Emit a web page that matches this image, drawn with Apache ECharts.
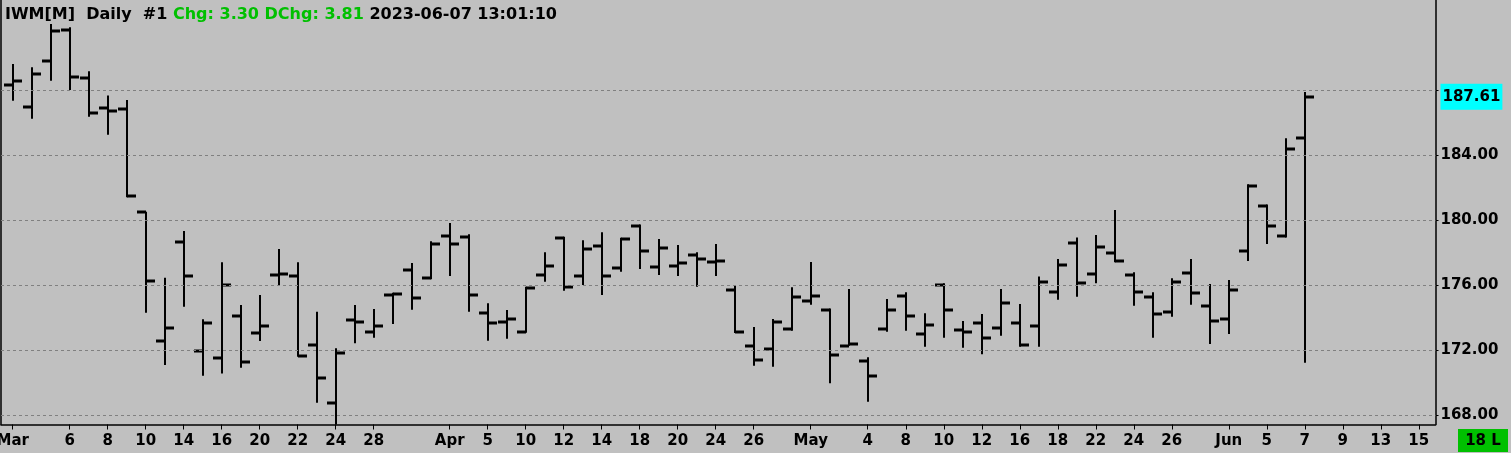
<!DOCTYPE html>
<html>
<head>
<meta charset="utf-8">
<script src="https://cdn.jsdelivr.net/npm/echarts@6/dist/echarts.min.js"></script>
<style>
html,body{margin:0;padding:0;background:#c0c0c0;}
#chart{width:1511px;height:453px;}
</style>
</head>
<body>
<div id="chart"></div>
<script>
// Trading days (index = position on the x axis); last 6 are empty future slots
const days = ['03-01','03-02','03-03','03-06','03-07','03-08','03-09','03-10','03-13','03-14','03-15','03-16','03-17','03-20','03-21','03-22','03-23','03-24','03-27','03-28','03-29','03-30','03-31',
'04-03','04-04','04-05','04-06','04-10','04-11','04-12','04-13','04-14','04-17','04-18','04-19','04-20','04-21','04-24','04-25','04-26','04-27','04-28',
'05-01','05-02','05-03','05-04','05-05','05-08','05-09','05-10','05-11','05-12','05-15','05-16','05-17','05-18','05-19','05-22','05-23','05-24','05-25','05-26','05-30','05-31',
'06-01','06-02','06-05','06-06','06-07','06-08','06-09','06-12','06-13','06-14','06-15'];

const openV  = [188.34,186.99,189.82,191.71,188.78,186.93,186.87,180.49,172.57,178.68,171.98,171.54,174.13,173.08,176.63,176.59,172.34,168.78,173.88,173.14,175.40,176.96,176.47,
179.05,178.99,174.31,173.76,173.14,176.65,178.93,176.59,178.44,177.08,179.67,177.14,177.21,177.88,177.45,175.73,172.28,172.10,173.33,
175.05,174.50,172.28,171.36,173.33,175.36,173.02,176.04,173.27,173.70,173.39,173.70,173.51,175.61,178.62,176.71,178.01,176.65,175.30,174.38,176.78,174.74,
173.94,178.13,180.90,179.05,185.08];
const highV  = [189.62,189.42,192.08,191.88,189.17,187.69,187.40,180.53,176.47,179.34,173.91,177.42,174.79,175.40,178.23,177.42,174.38,172.12,174.79,174.54,175.54,177.37,178.71,
179.83,179.14,174.89,174.48,175.91,178.03,178.99,178.77,179.26,178.93,179.75,178.85,178.48,178.03,178.54,176.00,173.43,173.93,175.88,
177.43,174.58,175.77,171.57,175.16,175.57,174.28,176.12,173.80,174.23,175.77,174.85,176.55,177.62,178.95,179.10,180.63,176.80,175.57,176.43,177.62,176.08,
176.33,182.22,180.98,185.05,187.90];
const lowV   = [187.36,186.25,188.59,188.02,186.38,185.27,181.42,174.31,171.10,174.68,170.44,170.58,170.93,172.57,176.02,171.61,168.78,167.20,172.43,172.78,173.62,174.50,176.37,
176.57,174.38,172.59,172.71,173.08,176.22,175.67,176.02,175.40,176.84,177.00,176.63,176.57,175.91,176.57,173.06,171.05,170.99,173.21,
174.81,169.97,172.28,168.84,173.14,173.21,172.22,172.78,172.16,171.75,172.90,172.22,172.22,175.11,175.30,176.12,177.42,174.74,172.78,174.07,174.81,172.39,
173.00,177.50,178.54,178.95,171.24];
const closeV = [188.59,189.02,191.67,188.84,186.60,186.74,181.51,176.28,173.39,176.59,173.70,176.02,171.30,173.51,176.70,171.67,170.30,171.85,173.76,173.51,175.46,175.24,178.52,
178.56,175.40,173.70,173.94,175.85,177.21,175.90,178.25,176.59,178.87,178.13,178.31,177.39,177.64,177.50,173.13,171.40,173.74,175.30,
175.34,171.73,172.41,170.44,174.50,174.13,173.58,174.50,173.14,172.78,174.93,172.34,176.22,177.27,176.16,178.38,177.50,175.59,174.25,176.20,175.54,173.82,
175.71,182.11,179.67,184.41,187.61];

const xTickIdx  = [0,3,5,7,9,11,13,15,17,19,23,25,27,29,31,33,35,37,39,42,45,47,49,51,53,55,57,59,61,64,66,68,70,72,74];
const xTickText = ['Mar','6','8','10','14','16','20','22','24','28','Apr','5','10','12','14','18','20','24','26','May','4','8','10','12','16','18','22','24','26','Jun','5','7','9','13','15'];
const yGrid     = [168,172,176,180,184,188];
const yLabels   = [168,172,176,180,184,187.61];
const lastPrice = 187.61;

const FONT = 'DejaVu Sans';
const ohlc = openV.map((o, i) => [i, o, highV[i], lowV[i], closeV[i]]);

const chart = echarts.init(document.getElementById('chart'), null, {renderer: 'canvas'});
chart.setOption({
  animation: false,
  backgroundColor: '#c0c0c0',
  title: {
    text: '{b|IWM[M]  Daily  #1 }{g|Chg: 3.30 DChg: 3.81 }{b|2023-06-07 13:01:10}',
    left: 5, top: 7, padding: 0,
    textStyle: {
      rich: {
        b: {fontFamily: FONT, fontWeight: 'bold', fontSize: 16, color: '#000'},
        g: {fontFamily: FONT, fontWeight: 'bold', fontSize: 16, color: '#00c000'}
      }
    }
  },
  grid: {left: 1, right: 75.5, top: 0, bottom: 28.5, outerBoundsMode: 'none', containLabel: false},
  xAxis: {
    type: 'value', min: -0.616, max: 74.88,
    splitLine: {show: false},
    axisLine: {show: true, onZero: false, lineStyle: {color: '#000', width: 1.5}},
    axisTick: {show: true, customValues: xTickIdx, length: 5, lineStyle: {color: '#000', width: 1}},
    axisLabel: {
      customValues: xTickIdx, margin: 9,
      fontFamily: FONT, fontWeight: 'bold', fontSize: 15, color: '#000',
      formatter: v => xTickText[xTickIdx.indexOf(Math.round(v))]
    }
  },
  yAxis: [{
    type: 'value', position: 'right', min: 167.434, max: 193.56,
    splitLine: {show: false},
    axisLine: {show: true, onZero: false, lineStyle: {color: '#000', width: 1.5}},
    axisTick: {show: true, customValues: yGrid, length: 3, lineStyle: {color: '#000'}},
    axisLabel: {
      customValues: yLabels, margin: 5,
      fontFamily: FONT, fontWeight: 'bold', fontSize: 15, color: '#000',
      formatter: v => Math.abs(v - lastPrice) < 1e-6 ? '{cur|' + v.toFixed(2) + '}' : v.toFixed(2),
      rich: {cur: {fontFamily: FONT, fontWeight: 'bold', fontSize: 15, color: '#000', backgroundColor: '#00ffff', padding: [6, 2, 5, 2]}}
    }
  }, {
    type: 'value', position: 'left', min: 167.434, max: 193.56,
    splitLine: {show: false},
    axisLine: {show: true, onZero: false, lineStyle: {color: '#000', width: 1.5}},
    axisTick: {show: false}, axisLabel: {show: false}
  }],
  series: [{
    type: 'custom',
    clip: true,
    data: ohlc,
    renderItem: (params, api) => {
      const i = api.value(0);
      const o = api.coord([i, api.value(1)]);
      const h = api.coord([i, api.value(2)]);
      const l = api.coord([i, api.value(3)]);
      const c = api.coord([i, api.value(4)]);
      const x = Math.round(o[0]);
      return {
        type: 'group',
        children: [
          {type: 'line', shape: {x1: x, y1: h[1], x2: x, y2: l[1]}, style: {stroke: '#000', lineWidth: 2}},
          {type: 'rect', shape: {x: x - 9, y: Math.round(o[1]) - 1.5, width: 9, height: 3}, style: {fill: '#000'}},
          {type: 'rect', shape: {x: x, y: Math.round(c[1]) - 1.5, width: 9, height: 3}, style: {fill: '#000'}}
        ]
      };
    },
    markLine: {
      silent: true, symbol: 'none', label: {show: false},
      lineStyle: {color: '#808080', type: [3, 3], width: 1},
      data: yGrid.map(v => ({yAxis: v}))
    },
    z: 3
  }],
  graphic: [
    {type: 'rect', shape: {x: 1458, y: 429, width: 50, height: 23}, style: {fill: '#00c000'}},
    {type: 'text', x: 1483, y: 441, style: {text: '18 L', fill: '#000', font: 'bold 15px "DejaVu Sans"', align: 'center', verticalAlign: 'middle'}}
  ]
});
</script>
</body>
</html>
